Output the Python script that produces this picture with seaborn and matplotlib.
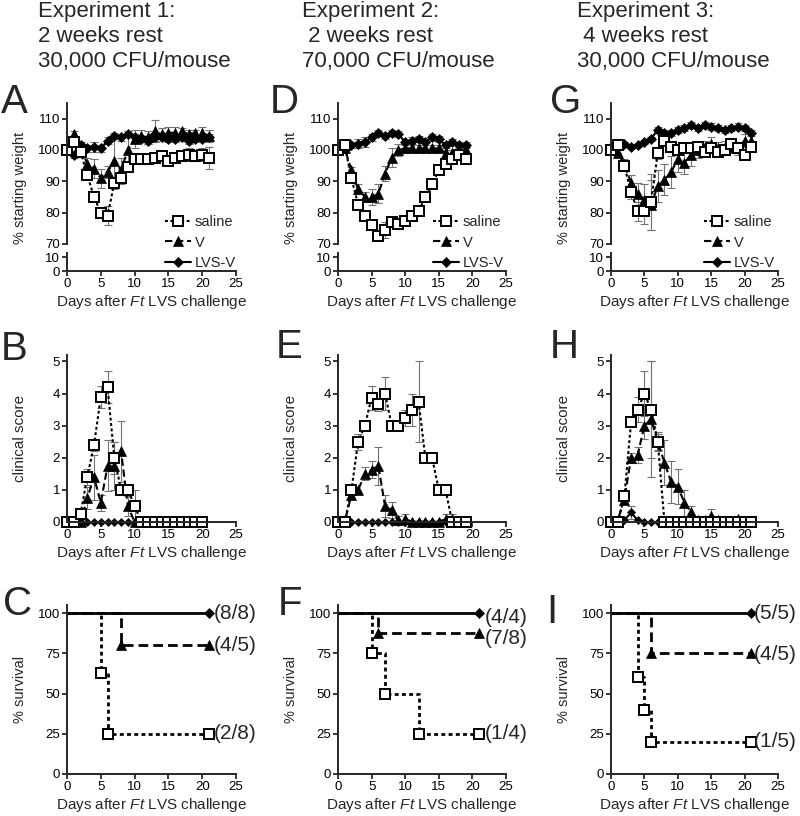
import numpy as np
import seaborn as sns
import matplotlib.pyplot as plt
from matplotlib.lines import Line2D

sns.set_style("ticks")
plt.rcParams["font.family"] = ["Liberation Sans", "DejaVu Sans"]
plt.rcParams["mathtext.fontset"] = "custom"
plt.rcParams["mathtext.rm"] = "Liberation Sans"
plt.rcParams["mathtext.it"] = "Liberation Sans:italic"

W, H = 800, 816

# -------------------------------------------------
# Data
# -------------------------------------------------
days_19 = [0, 1, 2, 3, 4, 5, 6, 7, 8, 9, 10, 11, 12, 13, 14, 15, 16, 17, 18, 19]
days_20 = days_19 + [20]
days_21 = days_20 + [21]

# weight, experiment 1
a_saline = [100, 102.5, 99.5, 92, 85, 80, 79, 89.5, 91, 94.5, 97, 97, 97, 97.5, 98, 96.5, 97.5, 98, 98.5, 98, 98.5, 97.5]
a_saline_err = [0, 1, 1, 1, 1, 1, 3, 2, 2, 1.5, 1.5, 1, 1, 1, 1, 1, 1.5, 1.5, 2, 1.5, 2, 3.5]
a_v = [100, 105, 101, 95.5, 94, 91, 93, 96.5, 93.5, 100, 103.5, 104.5, 104, 106, 105, 105.5, 105.5, 106, 105, 105.5, 105.5, 104.5]
a_v_err = [0, 1, 1.5, 2, 3, 3, 2, 7, 4, 4, 3, 2, 2, 3.5, 2, 2, 2, 1, 1.5, 1, 2, 2]
a_lvs = [100, 98.5, 101.5, 100.5, 101, 100.5, 103, 104.5, 104, 105, 104, 103.5, 103, 104, 104, 103.5, 103.5, 104, 103, 103.5, 103.5, 104]
a_lvs_err = [0, 1, 1, 1, 1.5, 1, 1, 1, 1, 1, 1, 1, 1, 1, 1, 1, 1, 1, 1, 1, 1, 1]

# weight, experiment 2
d_saline = [100, 101.5, 91, 82.5, 79, 76, 72.5, 74.5, 77, 76.5, 77.5, 79, 80.5, 85, 89, 93.5, 95.5, 97, 98.5, 97]
d_saline_err = [0, 0.5, 1, 1, 1, 1, 1, 2.5, 1, 1.5, 1.5, 1, 1, 1, 1, 1, 1, 1, 1, 1]
d_v = [100, 100.5, 93.5, 87.5, 85, 85, 86, 92.5, 97.5, 100, 100.5, 100.5, 100.5, 100.5, 100.5, 100.5, 99, 99, 100, 100]
d_v_err = [0, 0.5, 1, 1.5, 1.5, 2.5, 3, 2.5, 3, 2, 1.5, 1, 1, 1, 1, 1, 1, 1, 1, 1]
d_lvs = [100, 100.5, 101.5, 102, 102.5, 104, 105.5, 104.5, 105.5, 105, 102.5, 103, 103.5, 102.5, 104, 103.5, 101.5, 102.5, 101.5, 101.5]
d_lvs_err = [0, 0.5, 1, 1.5, 1.5, 1, 1, 1, 1, 1, 1, 1, 1, 1, 1, 1, 1, 1, 1, 1]

# weight, experiment 3
g_saline = [100, 101.5, 95, 86.5, 80.5, 80.5, 83.5, 99, 103, 101, 100, 100.5, 100.5, 101, 99.5, 100.5, 99.5, 100, 102, 100.5, 98.5, 101]
g_saline_err = [0, 1, 1.5, 2, 3, 4, 9, 2, 1.5, 1.5, 1, 1, 1.5, 1.5, 1, 1.5, 1, 1, 1.5, 1, 1.5, 1.5]
g_v = [100, 99, 95.5, 89.5, 86, 84, 82.5, 88.5, 90.5, 93, 97, 96, 98.5, 100, 101, 102, 100.5, 101, 101, 100.5, 103, 103]
g_v_err = [0, 1, 1.5, 2.5, 3.5, 5, 8, 5, 5, 5, 4, 3.5, 3.5, 2.5, 2, 2, 2, 2, 2, 2, 2, 2]
g_lvs = [100, 101, 102, 101, 101.5, 102.5, 103.5, 106.5, 105.5, 105.5, 106.5, 107, 108, 107, 108, 107.5, 107, 106.5, 107, 107.5, 107, 105.5]
g_lvs_err = [0, 0.5, 0.5, 0.5, 0.5, 0.5, 0.5, 1, 1, 1, 1, 1, 1, 1, 1, 1, 1, 1, 1, 1, 1, 1]

# clinical score, experiment 1
b_saline = [0, 0, 0.25, 1.4, 2.4, 3.9, 4.2, 2.0, 1.0, 1.0, 0.5, 0, 0, 0, 0, 0, 0, 0, 0, 0, 0]
b_saline_err = [0, 0, 0, 0.25, 0.2, 0.35, 0.5, 0.5, 0.1, 0.1, 0.5, 0, 0, 0, 0, 0, 0, 0, 0, 0, 0]
b_v = [0, 0, 0, 0.75, 1.4, 0.6, 1.75, 1.75, 2.2, 0.5, 0, 0, 0, 0, 0, 0, 0, 0, 0, 0, 0]
b_v_err = [0, 0, 0, 0.35, 0.7, 0.25, 0.8, 0.75, 0.95, 0.3, 0, 0, 0, 0, 0, 0, 0, 0, 0, 0, 0]
b_lvs = [0, 0, 0, 0, 0, 0, 0, 0, 0, 0, 0, 0, 0, 0, 0, 0, 0, 0, 0, 0, 0]

# clinical score, experiment 2
e_saline = [0, 0, 1.0, 2.5, 3.0, 3.875, 3.667, 4.0, 3.0, 3.0, 3.25, 3.5, 3.75, 2.0, 2.0, 1.0, 1.0, 0, 0, 0]
e_saline_err = [0, 0, 0, 0.25, 0, 0.375, 0.2, 0.5, 0, 0, 0.25, 0.5, 1.25, 0, 0, 0, 0, 0, 0, 0]
e_v = [0, 0, 0.85, 1.0, 1.5, 1.625, 1.75, 0.5, 0.375, 0.05, 0.1, 0, 0, 0, 0, 0, 0.1, 0.1, 0, 0]
e_v_err = [0, 0, 0, 0, 0.2, 0.27, 0.6, 0.35, 0.25, 0.15, 0.15, 0, 0, 0, 0, 0, 0.15, 0.15, 0, 0]
e_lvs = [0, 0, 0, 0, 0, 0, 0, 0, 0, 0, 0, 0, 0, 0, 0, 0, 0, 0, 0, 0]

# clinical score, experiment 3
h_saline = [0, 0, 0.8, 3.1, 3.5, 4.0, 3.5, 2.5, 0, 0, 0, 0, 0, 0, 0, 0, 0, 0, 0, 0, 0, 0]
h_saline_err = [0, 0, 0, 0, 0.4, 0.7, 1.5, 0.25, 0, 0, 0, 0, 0, 0, 0, 0, 0, 0, 0, 0, 0, 0]
h_v = [0, 0.05, 0.7, 2.0, 2.1, 3.0, 3.2, 2.5, 1.85, 1.25, 1.1, 0.6, 0.3, 0.05, 0.05, 0.2, 0.05, 0, 0, 0.1, 0, 0]
h_v_err = [0, 0, 0.1, 0.15, 0.25, 0.4, 1.8, 0.3, 0.7, 0.65, 0.55, 0.4, 0.2, 0, 0, 0.2, 0, 0, 0, 0, 0, 0]
h_lvs = [0, 0, 0.05, 0.3, 0.05, 0, 0, 0, 0, 0, 0, 0, 0, 0, 0, 0, 0, 0, 0, 0, 0, 0]
h_lvs_err = [0, 0, 0, 0.2, 0, 0, 0, 0, 0, 0, 0, 0, 0, 0, 0, 0, 0, 0, 0, 0, 0, 0]

# survival
c_saline_days, c_saline = [0, 5, 6, 21], [100, 62.5, 25, 25]
c_v_days, c_v = [0, 8, 21], [100, 80, 80]
c_lvs_days, c_lvs = [0, 21], [100, 100]
c_labels, c_label_y = ["(8/8)", "(4/5)", "(2/8)"], [100, 80, 25]

f_saline_days, f_saline = [0, 5, 7, 12, 21], [100, 75, 50, 25, 25]
f_v_days, f_v = [0, 6, 21], [100, 87.5, 87.5]
f_lvs_days, f_lvs = [0, 21], [100, 100]
f_labels, f_label_y = ["(4/4)", "(7/8)", "(1/4)"], [97, 84, 25]

i_saline_days, i_saline = [0, 4, 5, 6, 21], [100, 60, 40, 20, 20]
i_v_days, i_v = [0, 6, 21], [100, 75, 75]
i_lvs_days, i_lvs = [0, 21], [100, 100]
i_labels, i_label_y = ["(5/5)", "(4/5)", "(1/5)"], [100, 74, 20]

titles = [
    "Experiment 1:\n2 weeks rest\n30,000 CFU/mouse",
    "Experiment 2:\n 2 weeks rest\n70,000 CFU/mouse",
    "Experiment 3:\n 4 weeks rest\n30,000 CFU/mouse",
]
groups = ["saline", "V", "LVS-V"]

# -------------------------------------------------
# Styles / layout
# -------------------------------------------------
styles = {
    "saline": dict(linestyle=(0, (1.4, 1.2)), marker="s", markerfacecolor="white",
                   markeredgecolor="black", markeredgewidth=1.4, markersize=7),
    "V": dict(linestyle=(0, (3.5, 1.8)), marker="^", markerfacecolor="black",
              markeredgecolor="black", markeredgewidth=0.5, markersize=7),
    "LVS-V": dict(linestyle="-", marker="D", markerfacecolor="black",
                  markeredgecolor="black", markeredgewidth=0.5, markersize=5.5),
}
col_px = [(67, 236), (338, 506), (611, 778)]
xlabel = r"Days after $\mathit{Ft}$ LVS challenge"
tick_fs = 9.5
xlab_fs = 11
leg_fs = 10.5

fig = plt.figure(figsize=(W / 100, H / 100), dpi=100)


def px_axes(left, top, right, bottom):
    ax = fig.add_axes([left / W, 1 - bottom / H, (right - left) / W, (bottom - top) / H])
    ax.patch.set_visible(False)
    for s in ["top", "right"]:
        ax.spines[s].set_visible(False)
    for s in ["left", "bottom"]:
        ax.spines[s].set_linewidth(1.4)
    ax.tick_params(direction="out", length=3.5, width=1.1, pad=1.5, labelsize=tick_fs, colors="black")
    return ax


def draw_errors(ax, days, vals, errs):
    d, v, e = np.array(days), np.array(vals), np.array(errs)
    m = e > 0
    ax.errorbar(d[m], v[m], yerr=e[m], fmt="none", ecolor="0.45", elinewidth=0.8,
                capsize=3, capthick=0.8, zorder=1.5, clip_on=False)


def draw_series(ax, days, vals, name, lw=1.5, ms_scale=1.0, **extra):
    st = dict(styles[name])
    st["markersize"] = st["markersize"] * ms_scale
    st.update(extra)
    sns.lineplot(x=days, y=vals, ax=ax, color="black", linewidth=lw, errorbar=None,
                 clip_on=False, zorder=2, **st)


def weight_panel(col, days, sal, sal_e, v, v_e, lvs, lvs_e, leg_x):
    left, right = col_px[col]
    ax = px_axes(left, 103, right, 244)
    axb = px_axes(left, 253, right, 271)
    for vals, errs, name in [(lvs, lvs_e, "LVS-V"), (v, v_e, "V"), (sal, sal_e, "saline")]:
        draw_errors(ax, days, vals, errs)
        draw_series(ax, days, vals, name)
    ax.set_xlim(0, 25)
    ax.set_ylim(70, 115)
    ax.set_yticks([70, 80, 90, 100, 110])
    ax.spines["bottom"].set_visible(False)
    ax.tick_params(axis="x", bottom=False, labelbottom=False)
    ax.set_xlabel("")
    ax.set_ylabel("% starting weight", fontsize=10.5)
    ax.yaxis.set_label_coords(-0.237, 0.40)
    axb.set_xlim(0, 25)
    axb.set_ylim(0, 13)
    axb.set_yticks([0, 10])
    axb.set_xticks([0, 5, 10, 15, 20, 25])
    axb.set_xlabel(xlabel, fontsize=xlab_fs, labelpad=2)
    handles = [Line2D([], [], color="black", linewidth=1.5, **styles[g]) for g in groups]
    ax.legend(handles, groups, loc="upper left", bbox_to_anchor=(leg_x / W, 1 - 215 / H),
              bbox_transform=fig.transFigure, frameon=False, borderpad=0, borderaxespad=0,
              handlelength=1.8, handletextpad=0.25, labelspacing=0.45, fontsize=leg_fs)


def score_panel(col, days, sal, sal_e, v, v_e, lvs, lvs_e):
    left, right = col_px[col]
    ax = px_axes(left, 355, right, 522)
    for vals, errs, name in [(lvs, lvs_e, "LVS-V"), (v, v_e, "V"), (sal, sal_e, "saline")]:
        draw_errors(ax, days, vals, errs)
        ms = 0.7 if name == "LVS-V" else 1.0
        draw_series(ax, days, vals, name, ms_scale=ms)
    ax.set_xlim(0, 25)
    ax.set_ylim(0, 5.2)
    ax.set_yticks([0, 1, 2, 3, 4, 5])
    ax.set_xticks([0, 5, 10, 15, 20, 25])
    ax.set_ylabel("clinical score", fontsize=11)
    ax.yaxis.set_label_coords(-0.237, 0.5)
    ax.set_xlabel(xlabel, fontsize=xlab_fs, labelpad=2)


def survival_panel(col, sal_d, sal, v_d, v, lvs_d, lvs, labels, label_y, label_x):
    left, right = col_px[col]
    ax = px_axes(left, 605, right, 774)
    for d, vals, name in [(lvs_d, lvs, "LVS-V"), (v_d, v, "V"), (sal_d, sal, "saline")]:
        draw_series(ax, d, vals, name, lw=2.0, ms_scale=1.0,
                    drawstyle="steps-post", markevery=list(range(1, len(d))))
    for lab, y in zip(labels, label_y):
        ax.text(label_x, y, lab, fontsize=15, va="center", ha="left", clip_on=False)
    ax.set_xlim(0, 25)
    ax.set_ylim(0, 105)
    ax.set_yticks([0, 25, 50, 75, 100])
    ax.set_xticks([0, 5, 10, 15, 20, 25])
    ax.set_ylabel("% survival", fontsize=10.5)
    ax.yaxis.set_label_coords(-0.237, 0.5)
    ax.set_xlabel(xlabel, fontsize=xlab_fs, labelpad=2)


weight_panel(0, days_21, a_saline, a_saline_err, a_v, a_v_err, a_lvs, a_lvs_err, 165)
weight_panel(1, days_19, d_saline, d_saline_err, d_v, d_v_err, d_lvs, d_lvs_err, 433)
weight_panel(2, days_21, g_saline, g_saline_err, g_v, g_v_err, g_lvs, g_lvs_err, 704)

score_panel(0, days_20, b_saline, b_saline_err, b_v, b_v_err, b_lvs, [0] * 21)
score_panel(1, days_19, e_saline, e_saline_err, e_v, e_v_err, e_lvs, [0] * 20)
score_panel(2, days_21, h_saline, h_saline_err, h_v, h_v_err, h_lvs, h_lvs_err)

survival_panel(0, c_saline_days, c_saline, c_v_days, c_v, c_lvs_days, c_lvs, c_labels, c_label_y, 21.7)
survival_panel(1, f_saline_days, f_saline, f_v_days, f_v, f_lvs_days, f_lvs, f_labels, f_label_y, 21.8)
survival_panel(2, i_saline_days, i_saline, i_v_days, i_v, i_lvs_days, i_lvs, i_labels, i_label_y, 21.4)

# titles and panel letters
for x, t in zip([38, 302, 577], titles):
    fig.text(x / W, 1 - 1 / H, t, fontsize=16, va="top", ha="left", linespacing=1.25)

letters = [("A", 1, 113), ("B", 1, 360), ("C", 3, 615),
           ("D", 270, 113), ("E", 276, 358), ("F", 278, 615),
           ("G", 550, 113), ("H", 550, 358), ("I", 546, 623)]
for let, x, y in letters:
    fig.text(x / W, 1 - y / H, let, fontsize=29, va="baseline", ha="left")

fig.savefig("out.png", dpi=100)
